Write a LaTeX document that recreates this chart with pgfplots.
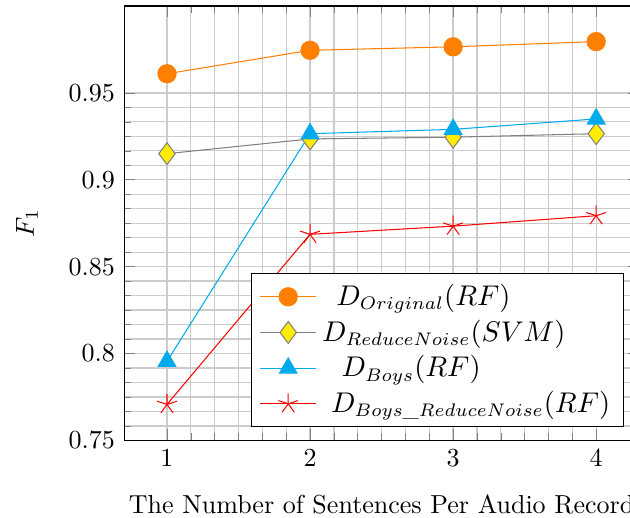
\documentclass[border=0pt]{standalone}
\usepackage{amsmath}
\usepackage{pgfplots}
\pgfplotsset{compat=1.18}
\definecolor{myorange}{RGB}{255,128,0}
\definecolor{myblue}{RGB}{0,170,235}
\definecolor{myyellow}{RGB}{255,236,0}
\begin{document}
\begin{tikzpicture}
\begin{axis}[
  scale only axis,
  width=198pt, height=167pt,
  xmin=0.7, xmax=4.3,
  ymin=0.75, ymax=1.0,
  xtick={1,2,3,4},
  ytick={0.75,0.8,0.85,0.9,0.95},
  minor tick num=5,
  grid=both,
  major grid style={gray!40, line width=0.5pt},
  minor grid style={gray!40, line width=0.5pt},
  xlabel={The Number of Sentences Per Audio Record},
  xlabel style={yshift=-4pt},
  ylabel={$F_1$},
  ylabel style={yshift=5pt},
  legend pos=south east,
  legend cell align=left,
  legend style={fill=white, draw=black, font=\fontsize{10.6}{13.5}\selectfont},
  legend image code/.code={\draw[mark repeat=2,mark phase=2] plot coordinates {(0cm,0cm) (0.38cm,0cm) (0.76cm,0cm)};},
]
\addplot[color=myorange, mark=*, mark size=3.5pt, mark options={fill=myorange, draw=myorange}]
  coordinates {(1,0.961) (2,0.9745) (3,0.9765) (4,0.9795)};
\addlegendentry{\hspace{5.5pt}$D_{Original}(RF)$}
\addplot[color=gray, mark=diamond*, mark size=4.2pt, mark options={fill=myyellow, draw=gray}]
  coordinates {(1,0.915) (2,0.9235) (3,0.9245) (4,0.9265)};
\addlegendentry{$D_{ReduceNoise}(SVM)$}
\addplot[color=myblue, mark=triangle*, mark size=3.9pt, mark options={fill=myblue, draw=myblue}]
  coordinates {(1,0.7955) (2,0.9265) (3,0.929) (4,0.935)};
\addlegendentry{\hspace{7.5pt}$D_{Boys}(RF)$}
\addplot[color=red, mark=star, mark size=4pt]
  coordinates {(1,0.7707) (2,0.8686) (3,0.8733) (4,0.8793)};
\addlegendentry{\hspace{3.5pt}$D_{Boys\text{\_}ReduceNoise}(RF)$}
\end{axis}
\pgfresetboundingbox
\path[use as bounding box] ([shift={(-47.7pt,-29.6pt)}]current axis.south west) rectangle ([shift={(-3.5pt,2.3pt)}]current axis.north east);
\end{tikzpicture}
\end{document}
